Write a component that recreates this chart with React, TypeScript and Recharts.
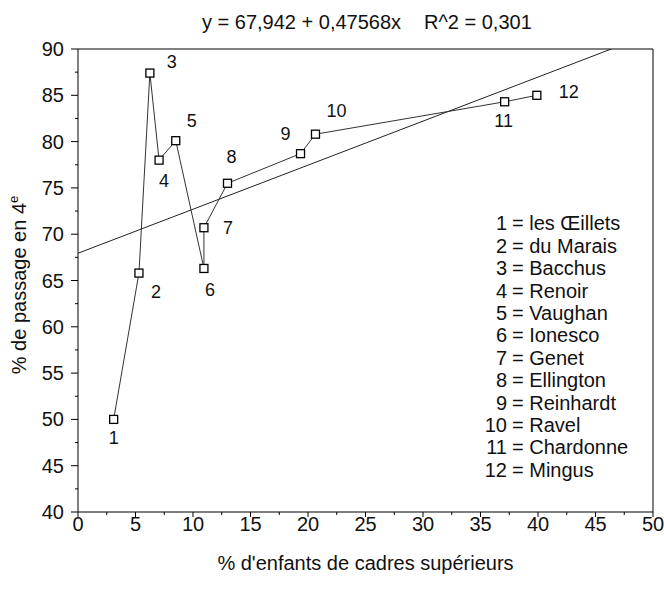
import React from 'react';
import { ComposedChart, Scatter, XAxis, YAxis, ReferenceLine } from 'recharts';

// ---- data ----
const schoolIds = [1, 2, 3, 4, 5, 6, 7, 8, 9, 10, 11, 12];
const schoolNames = [
  'les Œillets',
  'du Marais',
  'Bacchus',
  'Renoir',
  'Vaughan',
  'Ionesco',
  'Genet',
  'Ellington',
  'Reinhardt',
  'Ravel',
  'Chardonne',
  'Mingus',
];
const pctCadres = [3.1, 5.3, 6.25, 7.05, 8.5, 10.95, 10.95, 13.0, 19.35, 20.65, 37.1, 39.9];
const pctPassage = [50.0, 65.8, 87.4, 78.0, 80.1, 66.3, 70.7, 75.5, 78.7, 80.8, 84.3, 85.0];
const xTicks = [0, 2.5, 5, 7.5, 10, 12.5, 15, 17.5, 20, 22.5, 25, 27.5, 30, 32.5, 35, 37.5, 40, 42.5, 45, 47.5, 50];
const yTicks = [40, 42.5, 45, 47.5, 50, 52.5, 55, 57.5, 60, 62.5, 65, 67.5, 70, 72.5, 75, 77.5, 80, 82.5, 85, 87.5, 90];
const regIntercept = 67.942;
const regSlope = 0.47568;
const titleEquation = 'y = 67,942 + 0,47568x';
const titleR2 = 'R^2 = 0,301';
const xLabel = "% d'enfants de cadres supérieurs";
const yLabel = '% de passage en 4';
const yLabelSup = 'e';

// ---- derived tables ----
const points = pctCadres.map((x, i) => ({ x, y: pctPassage[i], id: schoolIds[i] }));
const yMax = 90;
const regLine = [
  { x: 0, y: regIntercept },
  { x: (yMax - regIntercept) / regSlope, y: yMax },
];

// label offsets (style): [dx, dy] from marker centre to label centre
const labelOffsets: [number, number][] = [
  [0, 18], [17, 18], [22, -12], [5, 20], [16, -20], [6, 21],
  [24, 0], [4, -27], [-15, -20], [21, -24], [-1, 19], [32, -4],
];

const FONT = '"Liberation Sans", Arial, Helvetica, sans-serif';

const XTick = (props: any) => {
  const { x, y, payload } = props;
  const major = payload.value % 5 === 0;
  return (
    <g>
      <line x1={x} x2={x} y1={y} y2={y + (major ? 5 : 3)} stroke="#000" strokeWidth={1} />
      {major && (
        <text x={x} y={y + 19} textAnchor="middle" fontSize={20} fontFamily={FONT} fill="#111">
          {payload.value}
        </text>
      )}
    </g>
  );
};

const YTick = (props: any) => {
  const { x, y, payload } = props;
  const major = payload.value % 5 === 0;
  return (
    <g>
      <line x1={x - (major ? 7 : 3)} x2={x} y1={y} y2={y} stroke="#000" strokeWidth={1} />
      {major && (
        <text x={x - 14} y={y + 7} textAnchor="end" fontSize={20} fontFamily={FONT} fill="#111">
          {payload.value}
        </text>
      )}
    </g>
  );
};

const SquareMarker = (props: any) => {
  const { cx, cy, payload } = props;
  const idx = payload.id - 1;
  const [dx, dy] = labelOffsets[idx];
  const s = 8;
  return (
    <g>
      <rect x={cx - s / 2} y={cy - s / 2} width={s} height={s} fill="#fff" stroke="#000" strokeWidth={1.3} />
      <text
        x={cx + dx}
        y={cy + dy + 6.5}
        textAnchor="middle"
        fontSize={18}
        fontFamily={FONT}
        fill="#111"
      >
        {payload.id}
      </text>
    </g>
  );
};

const NoMarker = () => <g />;

export default function App() {
  const legendBase = 230.3;
  const legendStep = 22.4;
  return (
    <div style={{ position: 'absolute', left: 0, top: 0, width: 664, height: 590, background: '#fff' }}>
      <ComposedChart
        width={664}
        height={590}
        margin={{ top: 49, right: 11, bottom: 0, left: 0 }}
        style={{ fontFamily: FONT }}
      >
        <XAxis
          type="number"
          dataKey="x"
          domain={[0, 50]}
          ticks={xTicks}
          interval={0}
          tickSize={0}
          tickMargin={0}
          tick={<XTick />}
          height={78}
          axisLine={{ stroke: '#000', strokeWidth: 1 }}
          tickLine={false}
          allowDataOverflow
        />
        <YAxis
          type="number"
          dataKey="y"
          domain={[40, 90]}
          ticks={yTicks}
          interval={0}
          tickSize={0}
          tickMargin={0}
          tick={<YTick />}
          width={78}
          axisLine={{ stroke: '#000', strokeWidth: 1 }}
          tickLine={false}
          allowDataOverflow
        />
        <ReferenceLine y={90} stroke="#000" strokeWidth={1} ifOverflow="extendDomain" />
        <ReferenceLine x={50} stroke="#000" strokeWidth={1} ifOverflow="extendDomain" />
        <Scatter
          data={regLine}
          line={{ stroke: '#222', strokeWidth: 1 }}
          lineType="joint"
          shape={<NoMarker />}
          isAnimationActive={false}
        />
        <Scatter
          data={points}
          line={{ stroke: '#333', strokeWidth: 1 }}
          lineType="joint"
          shape={<SquareMarker />}
          isAnimationActive={false}
        />
      </ComposedChart>
      <svg
        width={664}
        height={590}
        style={{ position: 'absolute', left: 0, top: 0, pointerEvents: 'none' }}
      >
        <g fontFamily={FONT} fill="#111" fontSize={20}>
          <text x={202} y={28.5} textAnchor="start">{titleEquation}</text>
          <text x={424} y={28.5} textAnchor="start">{titleR2}</text>
          <text x={365.5} y={570} textAnchor="middle">{xLabel}</text>
          <text transform="translate(25.5,285) rotate(-90)" textAnchor="middle">
            {yLabel}
            <tspan dy={-8} fontSize={13}>{yLabelSup}</tspan>
          </text>
          {schoolIds.map((id, i) => (
            <g key={id}>
              <text x={507} y={legendBase + i * legendStep} textAnchor="end">{id}</text>
              <text x={512} y={legendBase + i * legendStep} textAnchor="start">{'= ' + schoolNames[i]}</text>
            </g>
          ))}
        </g>
      </svg>
    </div>
  );
}
